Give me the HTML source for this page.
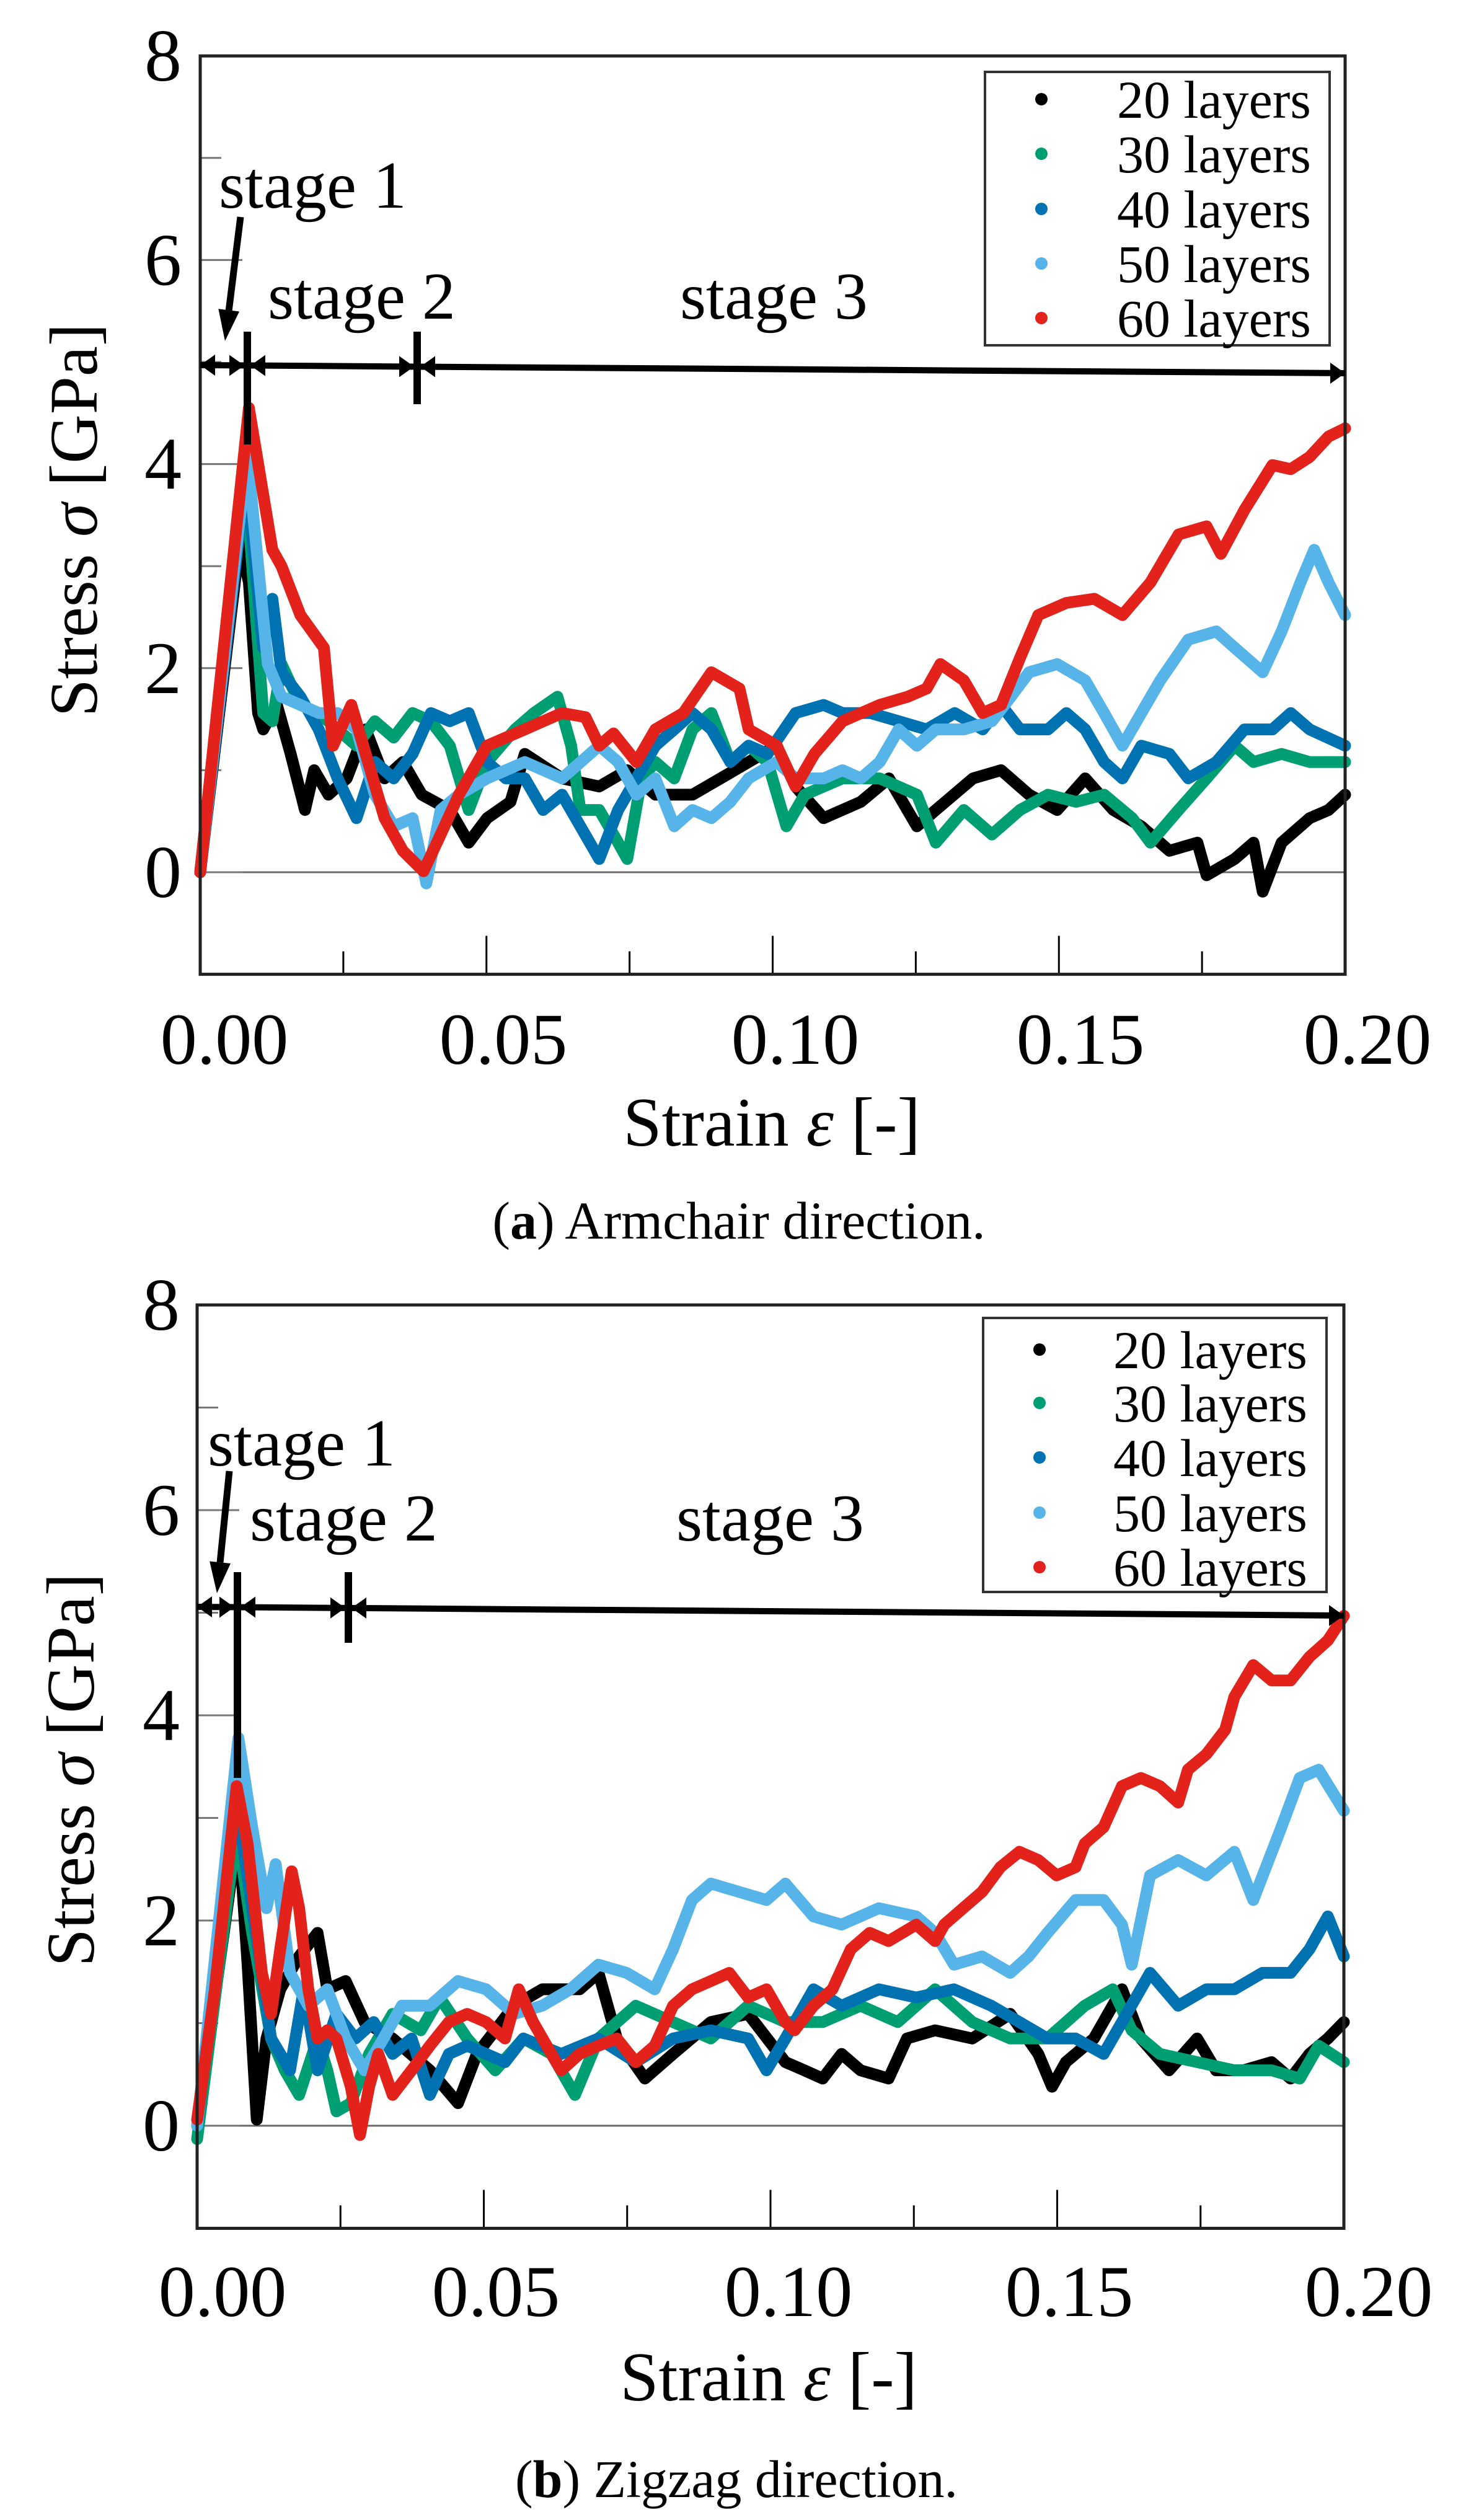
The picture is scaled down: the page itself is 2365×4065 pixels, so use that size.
<!DOCTYPE html>
<html><head><meta charset="utf-8"><style>
html,body{margin:0;padding:0;background:#fff;}
svg{display:block;}
text{font-family:"Liberation Serif","Times New Roman",serif;}
</style></head><body>
<svg id="fig" width="2365" height="4065" viewBox="0 0 2365 4065" xmlns="http://www.w3.org/2000/svg" font-family="'Liberation Serif', serif"></svg>
<script>
// ---------- Panel A (armchair) data ----------
const aStrain20=[0,.0069,.0085,.0101,.011,.0134,.0158,.0183,.0199,.0224,.0256,.0289,.0322,.0354,.0387,.0436,.0469,.0501,.0542,.0567,.0632,.0697,.0746,.0795,.086,.0909,.0958,.1007,.104,.1089,.1154,.1203,.1252,.1285,.135,.1399,.1448,.1497,.1546,.1595,.1644,.1693,.1742,.1758,.1807,.184,.1856,.1889,.1938,.1971,.2];
const aStress20=[0,3.24,2.84,1.56,1.4,1.64,1.16,.61,1.0,.76,.92,1.4,.92,1.08,.76,.61,.29,.53,.69,1.16,.92,.84,1.0,.76,.76,.92,1.08,1.24,.84,.53,.69,.92,.45,.61,.92,1.0,.76,.61,.92,.61,.45,.21,.29,-.03,.13,.29,-.19,.29,.53,.61,.76];
const aStrain30=[0,.0077,.011,.0126,.0142,.0175,.0207,.024,.0273,.0305,.0338,.0371,.0403,.0436,.0469,.0501,.055,.0583,.0624,.0648,.0664,.0697,.073,.0746,.0771,.0795,.0828,.086,.0893,.0926,.0958,.0991,.1024,.1056,.1122,.1187,.1252,.1285,.1334,.1383,.1432,.1481,.153,.1579,.1628,.166,.1709,.1758,.1807,.184,.1889,.1938,.2];
const aStress30=[0,4.03,1.56,1.48,2.04,1.64,1.56,1.4,1.24,1.48,1.32,1.56,1.48,1.24,.61,1.08,1.4,1.56,1.72,1.24,.61,.61,.29,.13,.92,1.08,.92,1.4,1.56,1.08,1.24,1.08,.45,.76,.92,.92,.76,.29,.61,.37,.61,.76,.69,.76,.53,.29,.61,.92,1.24,1.08,1.16,1.08,1.08];
const aStrain40=[0,.008,.011,.0126,.0142,.0175,.0207,.024,.0273,.0305,.0338,.0371,.0403,.0436,.0469,.0501,.0534,.0567,.0599,.0632,.0664,.0697,.073,.0762,.0795,.0828,.086,.0893,.0926,.0958,.0991,.104,.1089,.1122,.1171,.122,.1269,.1318,.1367,.1399,.1432,.1481,.1513,.1546,.1579,.1611,.1644,.1693,.1726,.1775,.1824,.1873,.1905,.1938,.2];
const aStress40=[0,3.91,2.2,2.68,1.96,1.72,1.4,.92,.53,1.08,.92,1.16,1.56,1.48,1.56,1.08,.92,.92,.61,.76,.45,.13,.61,.92,1.24,1.4,1.56,1.4,1.08,1.24,1.16,1.56,1.64,1.56,1.56,1.48,1.4,1.56,1.4,1.64,1.4,1.4,1.56,1.4,1.08,.92,1.24,1.16,.92,1.08,1.4,1.4,1.56,1.4,1.24];
const aStrain50=[0,.0082,.0118,.0142,.0175,.0207,.024,.0273,.0305,.0338,.0371,.0395,.042,.0452,.0501,.0567,.0632,.0697,.073,.0762,.0795,.0828,.086,.0893,.0926,.0958,.1007,.104,.1089,.1122,.1154,.1187,.122,.1252,.1285,.1334,.1383,.1416,.1448,.1497,.1546,.1579,.1611,.1644,.1677,.1726,.1775,.1807,.1856,.1889,.1922,.1946,.1971,.2];
const aStress50=[0,4.11,2.04,1.72,1.64,1.56,1.56,1.4,.76,.45,.53,-.11,.61,.76,.92,1.08,.92,1.24,1.08,.76,.92,.45,.61,.53,.69,.92,1.08,.92,.92,1.0,.92,1.08,1.4,1.24,1.4,1.4,1.48,1.72,1.96,2.04,1.88,1.56,1.24,1.56,1.88,2.28,2.36,2.2,1.96,2.36,2.84,3.16,2.84,2.52];
const aStrain60=[0,.0085,.0126,.0142,.0175,.0216,.0232,.0264,.0289,.0322,.0354,.039,.042,.0452,.0501,.0567,.0632,.0673,.0697,.0722,.0762,.0795,.0844,.0893,.0942,.0958,.1007,.104,.1073,.1122,.1187,.1236,.1269,.1293,.1334,.1367,.1399,.1432,.1464,.1513,.1562,.1611,.166,.1709,.1758,.1783,.1824,.1873,.1905,.1938,.1971,.2];
const aStress60=[0,4.55,3.16,3.0,2.52,2.2,1.24,1.64,1.16,.53,.21,.01,.37,.76,1.24,1.4,1.56,1.52,1.24,1.36,1.08,1.4,1.56,1.96,1.8,1.4,1.24,.84,1.16,1.48,1.64,1.72,1.8,2.04,1.88,1.56,1.64,2.1,2.52,2.64,2.68,2.52,2.84,3.31,3.39,3.12,3.55,3.99,3.95,4.07,4.27,4.35];
// ---------- Panel B (zigzag) data ----------
const bStrain20=[0,.0072,.0088,.0104,.0121,.0145,.0178,.021,.0227,.0259,.0292,.0341,.0406,.0455,.0488,.0553,.0602,.0667,.07,.0732,.0781,.083,.0896,.0961,.1026,.1059,.1091,.1124,.1157,.1206,.1238,.1287,.1352,.1418,.1467,.1491,.1515,.1564,.1613,.1646,.1695,.1744,.1777,.1825,.1874,.1907,.194,.1972,.2];
const bStress20=[0,2.91,1.57,.06,.85,1.33,1.65,1.88,1.33,1.41,1.01,.85,.54,.22,.7,1.17,1.33,1.33,1.49,.85,.46,.7,1.01,1.09,.62,.54,.46,.7,.54,.46,.85,.93,.85,1.09,.7,.38,.62,.85,1.33,.85,.54,.85,.54,.54,.62,.46,.7,.85,1.01];
const bStrain30=[0,.0069,.0096,.0129,.0153,.0178,.021,.0227,.0243,.0268,.03,.0341,.039,.0423,.0471,.052,.0569,.0618,.0659,.07,.0765,.083,.0896,.0961,.1026,.1091,.1157,.1222,.1287,.1352,.1418,.1483,.1548,.1597,.163,.1679,.1744,.1809,.1874,.1923,.1956,.2];
const bStress30=[-.13,2.91,1.88,.85,.54,.3,.85,.54,.14,.22,.7,1.09,.93,1.25,.85,.54,.85,.7,.3,.85,1.17,1.01,.85,1.17,1.01,1.01,1.17,1.01,1.33,1.01,.85,.85,1.17,1.33,.93,.7,.62,.54,.54,.46,.78,.62];
const bStrain40=[0,.0067,.0096,.0129,.0162,.0186,.021,.0243,.0276,.0308,.0341,.0374,.0406,.0439,.0471,.0537,.0569,.0635,.07,.0765,.083,.0896,.0961,.0993,.1026,.1075,.1124,.1189,.1254,.132,.1385,.1434,.1483,.1532,.1581,.1613,.1662,.1711,.176,.1809,.1858,.1907,.194,.1972,.2];
const bStress40=[0,3.23,2.12,.85,.54,1.33,.54,1.09,.85,1.01,.7,.85,.3,.7,.78,.62,.85,.7,.85,.62,.85,.93,.85,.54,.85,1.33,1.17,1.33,1.25,1.33,1.17,1.01,.85,.85,.7,1.01,1.49,1.17,1.33,1.33,1.49,1.49,1.72,2.04,1.65];
const bStrain50=[0,.0072,.0096,.0121,.0137,.0162,.0194,.0227,.0259,.0292,.0325,.0357,.0406,.0455,.0504,.0553,.0602,.0651,.07,.0749,.0798,.083,.0863,.0896,.0945,.0993,.1026,.1075,.1124,.1189,.1254,.1287,.132,.1369,.1418,.145,.1483,.1532,.1581,.1613,.163,.1662,.1711,.176,.1809,.1842,.1891,.1923,.1956,.2];
const bStress50=[0,3.78,2.91,2.12,2.55,1.49,1.17,1.33,.85,.54,.85,1.17,1.17,1.41,1.33,1.09,1.17,1.33,1.57,1.49,1.33,1.72,2.2,2.36,2.28,2.2,2.36,2.04,1.96,2.12,2.04,1.88,1.57,1.65,1.49,1.65,1.88,2.2,2.2,1.96,1.57,2.44,2.59,2.44,2.67,2.2,2.91,3.39,3.47,3.07];
const bStrain60=[0,.0031,.0069,.0088,.0113,.0129,.0145,.0165,.0178,.0194,.021,.0227,.0243,.0268,.0284,.03,.0316,.0341,.0374,.0406,.0439,.0471,.0504,.0537,.0561,.0586,.0618,.0635,.0667,.07,.0732,.0765,.0798,.083,.0863,.0896,.0928,.0961,.0993,.1026,.1042,.1075,.1108,.114,.1173,.1206,.1254,.1287,.1303,.1336,.1369,.1401,.1434,.1467,.1499,.1532,.1548,.1581,.1613,.1646,.1679,.1711,.1728,.176,.1793,.1809,.1842,.1874,.1907,.194,.1972,.2];
const bStress60=[.06,1.33,3.31,2.75,1.49,1.09,1.72,2.48,2.12,1.33,.85,.93,.85,.38,-.09,.38,.7,.3,.54,.78,1.01,1.09,1.01,.85,1.33,1.01,.7,.54,.7,.78,.85,.62,.78,1.17,1.33,1.41,1.49,1.25,1.33,1.01,.93,1.17,1.33,1.72,1.88,1.8,1.96,1.8,1.96,2.12,2.28,2.52,2.67,2.59,2.44,2.52,2.75,2.91,3.31,3.39,3.31,3.15,3.47,3.62,3.86,4.18,4.49,4.34,4.34,4.57,4.73,4.97];
// ---------- shared labels ----------
const seriesNames=["20 layers","30 layers","40 layers","50 layers","60 layers"];
const seriesColors=["#000000","#009e73","#0072b2","#56b4e9","#e3221b"];
const xTickValues=[0,0.05,0.10,0.15,0.20];
const xTickLabels=["0.00","0.05","0.10","0.15","0.20"];
const yTickValues=[0,2,4,6,8];
const yTickLabels=["0","2","4","6","8"];

const NS="http://www.w3.org/2000/svg";
const FONT="'Liberation Serif', 'Times New Roman', serif";
const svg=document.getElementById('fig');
function mk(tag,attrs,parent,text){const e=document.createElementNS(NS,tag);for(const k in attrs)e.setAttribute(k,attrs[k]);if(tag==='text')e.setAttribute('font-family',FONT);if(text!==undefined)e.textContent=text;(parent||svg).appendChild(e);return e;}

function panel(cfg){
  const g=mk('g',{});
  
  
  const X=s=>cfg.x0+(cfg.x1-cfg.x0)*s/0.2;
  const Y=v=>cfg.y0-v*cfg.k;
  const top=Y(8),bot=Y(-1);
  const zl=mk('line',{x1:cfg.x0,x2:cfg.x1,y1:Y(0),y2:Y(0),stroke:'#6a6a6a','stroke-width':3},g);
  
  
  for(let v=-1;v<=8;v++){
    const len=(v%2===0)?68:34;
    const t=mk('line',{x1:cfg.x0,x2:cfg.x0+len,y1:Y(v),y2:Y(v),stroke:'#777','stroke-width':3},g);
    
    
  }
  for(let i=1;i<8;i++){
    const s=i*0.025;const len=(i%2===0)?62:37;
    const t=mk('line',{x1:X(s),x2:X(s),y1:bot,y2:bot-len,stroke:'#000','stroke-width':3},g);
    
    
  }
  [0,1,2,3,4].forEach(i=>{
    const xs=cfg.strain[i],ys=cfg.stress[i];const n=Math.min(xs.length,ys.length);
    let d='';for(let j=0;j<n;j++)d+=(j?'L':'M')+X(xs[j]).toFixed(1)+' '+Y(ys[j]).toFixed(1);
    const p=mk('path',{d:d,fill:'none',stroke:seriesColors[i],'stroke-width':19,'stroke-linejoin':'round','stroke-linecap':'round'},g);
    
    
  });
  const fr=mk('rect',{x:cfg.x0,y:top,width:cfg.x1-cfg.x0,height:bot-top,fill:'none',stroke:'#222','stroke-width':5},g);
  
  
  xTickValues.forEach((v,i)=>{
    const t=mk('text',{x:cfg.xlab[i],y:cfg.xlabY,'font-size':118,'text-anchor':'middle'},g,xTickLabels[i]);
    
    
  });
  yTickValues.forEach((v,i)=>{
    const t=mk('text',{x:cfg.ylabX,y:Y(v)+40,'font-size':120,'text-anchor':'middle'},g,yTickLabels[i]);
    
    
  });
  const xt=mk('text',{x:cfg.xtitle[0],y:cfg.xtitle[1],'font-size':112,'text-anchor':'middle'},g);
  
  
  xt.innerHTML='Strain <tspan font-style="italic">ε</tspan> [-]';
  const yt=mk('text',{x:0,y:0,'font-size':110,'text-anchor':'middle',transform:`translate(${cfg.ytitle[0]+38},${cfg.ytitle[1]}) rotate(-90)`},g);
  
  
  yt.innerHTML='Stress <tspan font-style="italic">σ</tspan> [GPa]';
  const cp=mk('text',{x:cfg.cap[0],y:cfg.cap[1],'font-size':86,'text-anchor':'middle'},g);
  
  
  cp.innerHTML='(<tspan font-weight="bold">'+cfg.capL+'</tspan>) '+cfg.capT;
  const lg=mk('g',{},g);
  
  
  const lb=mk('rect',{x:cfg.leg[0],y:cfg.leg[1],width:cfg.leg[2],height:cfg.leg[3],fill:'#fff',stroke:'#333','stroke-width':4},lg);
  
  
  seriesNames.forEach((nm,i)=>{
    const yy=cfg.legY[i];
    const c=mk('circle',{cx:cfg.legMX,cy:yy,r:10,fill:seriesColors[i]},lg);
    
    
    const t=mk('text',{x:cfg.legTX,y:yy+30,'font-size':86},lg,nm);
    
    
  });
  const an=mk('g',{stroke:'#000',fill:'#000'},g);
  
  
  const [ax0,ayL,ax1,ayR]=cfg.arr;
  const ay=x=>ayL+(ayR-ayL)*(x-ax0)/(ax1-ax0);
  mk('line',{x1:ax0,y1:ayL,x2:ax1,y2:ayR,'stroke-width':10},an);
  const head=(x,dir)=>{const y=ay(x);mk('polygon',{points:`${x},${y} ${x-dir*24},${y-17} ${x-dir*24},${y+17}`,stroke:'none'},an);};
  head(ax0,-1);head(cfg.t1[0]-5,1);head(cfg.t1[0]+5,-1);head(cfg.t2[0]-5,1);head(cfg.t2[0]+5,-1);head(ax1,1);
  mk('line',{x1:cfg.t1[0],x2:cfg.t1[0],y1:cfg.t1[1],y2:cfg.t1[2],'stroke-width':12},an);
  mk('line',{x1:cfg.t2[0],x2:cfg.t2[0],y1:cfg.t2[1],y2:cfg.t2[2],'stroke-width':12},an);
  const [sx,sy,ex,ey]=cfg.s1arrow;
  const ang=Math.atan2(ey-sy,ex-sx);const bx=ex-Math.cos(ang)*50,by=ey-Math.sin(ang)*50;
  mk('line',{x1:sx,y1:sy,x2:bx,y2:by,'stroke-width':11},an);
  const px=-Math.sin(ang)*17,py=Math.cos(ang)*17;
  mk('polygon',{points:`${ex},${ey} ${bx+px},${by+py} ${bx-px},${by-py}`,stroke:'none'},an);
  cfg.stages.forEach((s,i)=>{
    const t=mk('text',{x:s[0],y:s[1],'font-size':108,stroke:'none'},an,'stage '+(i+1));
    
    
  });
}

panel({name:'armchair-panel',x0:323,x1:2170,y0:1407,k:164.6,
  strain:[aStrain20,aStrain30,aStrain40,aStrain50,aStrain60],
  stress:[aStress20,aStress30,aStress40,aStress50,aStress60],
  xlab:[362,812,1283,1743,2206],xlabY:1716,ylabX:263,
  xtitle:[1245,1848],ytitle:[118,839],cap:[1192,1998],capL:'a',capT:'Armchair direction.',
  leg:[1589,116,556,441],legY:[160,248,337,425,513],legMX:1680,legTX:1802,
  arr:[323,589,2170,602],t1:[399,535,717],t2:[673,535,652],
  s1arrow:[388,350,363,550],stages:[[353,335],[432,514],[1097,514]]});

panel({name:'zigzag-panel',x0:318,x1:2168,y0:3429,k:165.5,
  strain:[bStrain20,bStrain30,bStrain40,bStrain50,bStrain60],
  stress:[bStress20,bStress30,bStress40,bStress50,bStress60],
  xlab:[359,800,1272,1725,2208],xlabY:3736,ylabX:260,
  xtitle:[1240,3872],ytitle:[113,2855],cap:[1188,4028],capL:'b',capT:'Zigzag direction.',
  leg:[1586,2126,554,442],legY:[2177,2263,2351,2440,2528],legMX:1677,legTX:1796,
  arr:[318,2592,2168,2606],t1:[383,2536,2868],t2:[562,2536,2650],
  s1arrow:[370,2373,350,2570],stages:[[335,2364],[403,2485],[1091,2485]]});
</script>
</body></html>
